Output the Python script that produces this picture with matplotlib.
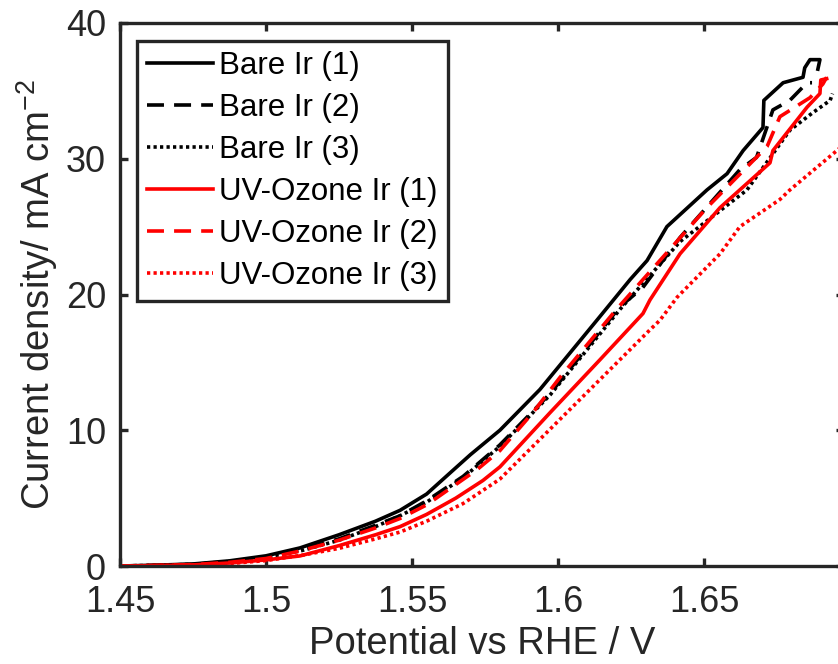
import matplotlib
matplotlib.use("Agg")
import matplotlib.pyplot as plt
import numpy as np

plt.rcParams['font.family'] = ['Liberation Sans', 'DejaVu Sans']
plt.rcParams['mathtext.fontset'] = 'custom'
plt.rcParams['mathtext.rm'] = 'Liberation Sans'
plt.rcParams['mathtext.it'] = 'Liberation Sans'

# ---- data (potential V vs RHE, current density mA cm^-2) ----
bare1_v = [1.45, 1.4625, 1.475, 1.4875, 1.50, 1.5116, 1.525, 1.5375, 1.5459, 1.555, 1.563,
           1.57, 1.5801, 1.5938, 1.6133, 1.6247, 1.6305, 1.6373, 1.651, 1.6579, 1.6634,
           1.6702, 1.6705, 1.6771, 1.6839, 1.6845, 1.6863, 1.6897, 1.689]
bare1_j = [0.0, 0.06, 0.15, 0.38, 0.75, 1.33, 2.3, 3.3, 4.1, 5.3, 6.85,
           8.2, 10.0, 13.0, 18.1, 21.1, 22.5, 25.0, 27.7, 28.9, 30.6,
           32.3, 34.3, 35.6, 36.0, 36.7, 37.3, 37.3, 36.6]

bare2_v = [1.45, 1.4625, 1.475, 1.4875, 1.50, 1.5125, 1.525, 1.5375, 1.5459, 1.555, 1.5675,
           1.58, 1.5973, 1.6212, 1.629, 1.6418, 1.6623, 1.668, 1.6736, 1.6794, 1.6853, 1.687]
bare2_j = [0.0, 0.05, 0.12, 0.33, 0.65, 1.2, 2.0, 3.0, 3.7, 4.8, 6.6,
           8.9, 12.7, 19.1, 20.5, 24.2, 29.2, 30.1, 33.6, 34.3, 35.6, 35.6]

bare3_v = [1.45, 1.4625, 1.475, 1.4875, 1.50, 1.5125, 1.525, 1.5375, 1.5459, 1.555, 1.5675,
           1.58, 1.5973, 1.6212, 1.6418, 1.6647, 1.6794, 1.6873, 1.6932, 1.694]
bare3_j = [0.0, 0.05, 0.12, 0.33, 0.65, 1.15, 1.9, 2.9, 3.7, 4.7, 6.5,
           8.8, 12.6, 18.9, 23.9, 27.7, 32.1, 33.4, 34.3, 34.8]

uv1_v = [1.45, 1.4625, 1.475, 1.4875, 1.50, 1.5116, 1.525, 1.5375, 1.5459, 1.555, 1.565,
         1.5743, 1.5801, 1.5973, 1.6144, 1.6291, 1.6315, 1.6418, 1.6555, 1.6726, 1.6736,
         1.6853, 1.6897, 1.690, 1.692]
uv1_j = [0.0, 0.03, 0.08, 0.22, 0.45, 0.74, 1.5, 2.3, 2.9, 3.8, 5.0,
         6.3, 7.3, 11.3, 15.2, 18.6, 19.6, 23.0, 26.4, 29.7, 30.6,
         33.8, 34.8, 35.8, 35.9]

uv2_v = [1.45, 1.4625, 1.475, 1.4875, 1.50, 1.5116, 1.525, 1.5375, 1.5459, 1.555, 1.5723,
         1.5801, 1.5914, 1.6007, 1.62, 1.651, 1.6716, 1.676, 1.6863, 1.6907, 1.692]
uv2_j = [0.0, 0.04, 0.10, 0.27, 0.55, 1.1, 1.9, 2.8, 3.5, 4.5, 7.1,
         8.5, 11.3, 13.9, 18.9, 26.4, 30.9, 33.1, 34.5, 35.5, 36.0]

uv3_v = [1.45, 1.4625, 1.475, 1.4875, 1.50, 1.5125, 1.525, 1.5375, 1.5459, 1.555, 1.5675,
         1.5801, 1.603, 1.6315, 1.6349, 1.6408, 1.6555, 1.6623, 1.676, 1.6794, 1.6955, 1.70]
uv3_j = [0.0, 0.03, 0.07, 0.18, 0.40, 0.8, 1.3, 2.0, 2.5, 3.3, 4.6,
         6.4, 11.3, 17.4, 18.1, 19.8, 23.0, 25.0, 27.0, 27.7, 30.6, 31.5]

labels = ['Bare Ir (1)', 'Bare Ir (2)', 'Bare Ir (3)',
          'UV-Ozone Ir (1)', 'UV-Ozone Ir (2)', 'UV-Ozone Ir (3)']
xticks = [1.45, 1.5, 1.55, 1.6, 1.65]
xticklabels = ['1.45', '1.5', '1.55', '1.6', '1.65']
yticks = [0, 10, 20, 30, 40]

# ---- figure ----
W, H = 838, 664
fig = plt.figure(figsize=(W / 100, H / 100), dpi=100)
left, right, bottom, top = 120, 844, 566, 23
ax = fig.add_axes([left / W, (H - bottom) / H, (right - left) / W, (bottom - top) / H])

lw = 2.6
dash = (0, (4.7, 2.8))
dot = (0, (0.9, 0.9))
series = [
    (bare1_v, bare1_j, 'black', '-'),
    (bare2_v, bare2_j, 'black', dash),
    (bare3_v, bare3_j, 'black', dot),
    (uv1_v, uv1_j, 'red', '-'),
    (uv2_v, uv2_j, 'red', dash),
    (uv3_v, uv3_j, 'red', dot),
]
for (v, j, c, ls), lab in zip(series, labels):
    ax.plot(v, j, color=c, linestyle=ls, linewidth=lw, label=lab)

ax.set_xlim(1.45, 1.45 + (right - left) / 2920)
ax.set_ylim(0, 40)
ax.set_xticks(xticks)
ax.set_xticklabels(xticklabels)
ax.set_yticks(yticks)

dark = '#262626'
for s in ax.spines.values():
    s.set_linewidth(2.4)
    s.set_color(dark)
ax.tick_params(direction='in', length=6, width=2.4, colors=dark, labelsize=26,
               top=True, right=True)
ax.tick_params(axis='x', pad=14)
ax.tick_params(axis='y', pad=10)
for t in ax.get_xticklabels() + ax.get_yticklabels():
    t.set_color(dark)

ax.set_xlabel('Potential vs RHE / V', fontsize=27.5, color=dark, labelpad=4)
ax.set_ylabel('Current density/ mA cm$^{-2}$', fontsize=27.5, color=dark, labelpad=4)

leg = ax.legend(loc='upper left', bbox_to_anchor=((137 - left) / (right - left), (bottom - 41) / (bottom - top)),
                fontsize=22.5, frameon=True, fancybox=False, framealpha=1,
                edgecolor=dark, handlelength=2.1, handletextpad=0.2,
                labelspacing=0.38, borderpad=0.33, borderaxespad=0)
leg.get_frame().set_linewidth(2.4)
for t in leg.get_texts():
    t.set_color('black')

fig.savefig('out.png', dpi=100)
